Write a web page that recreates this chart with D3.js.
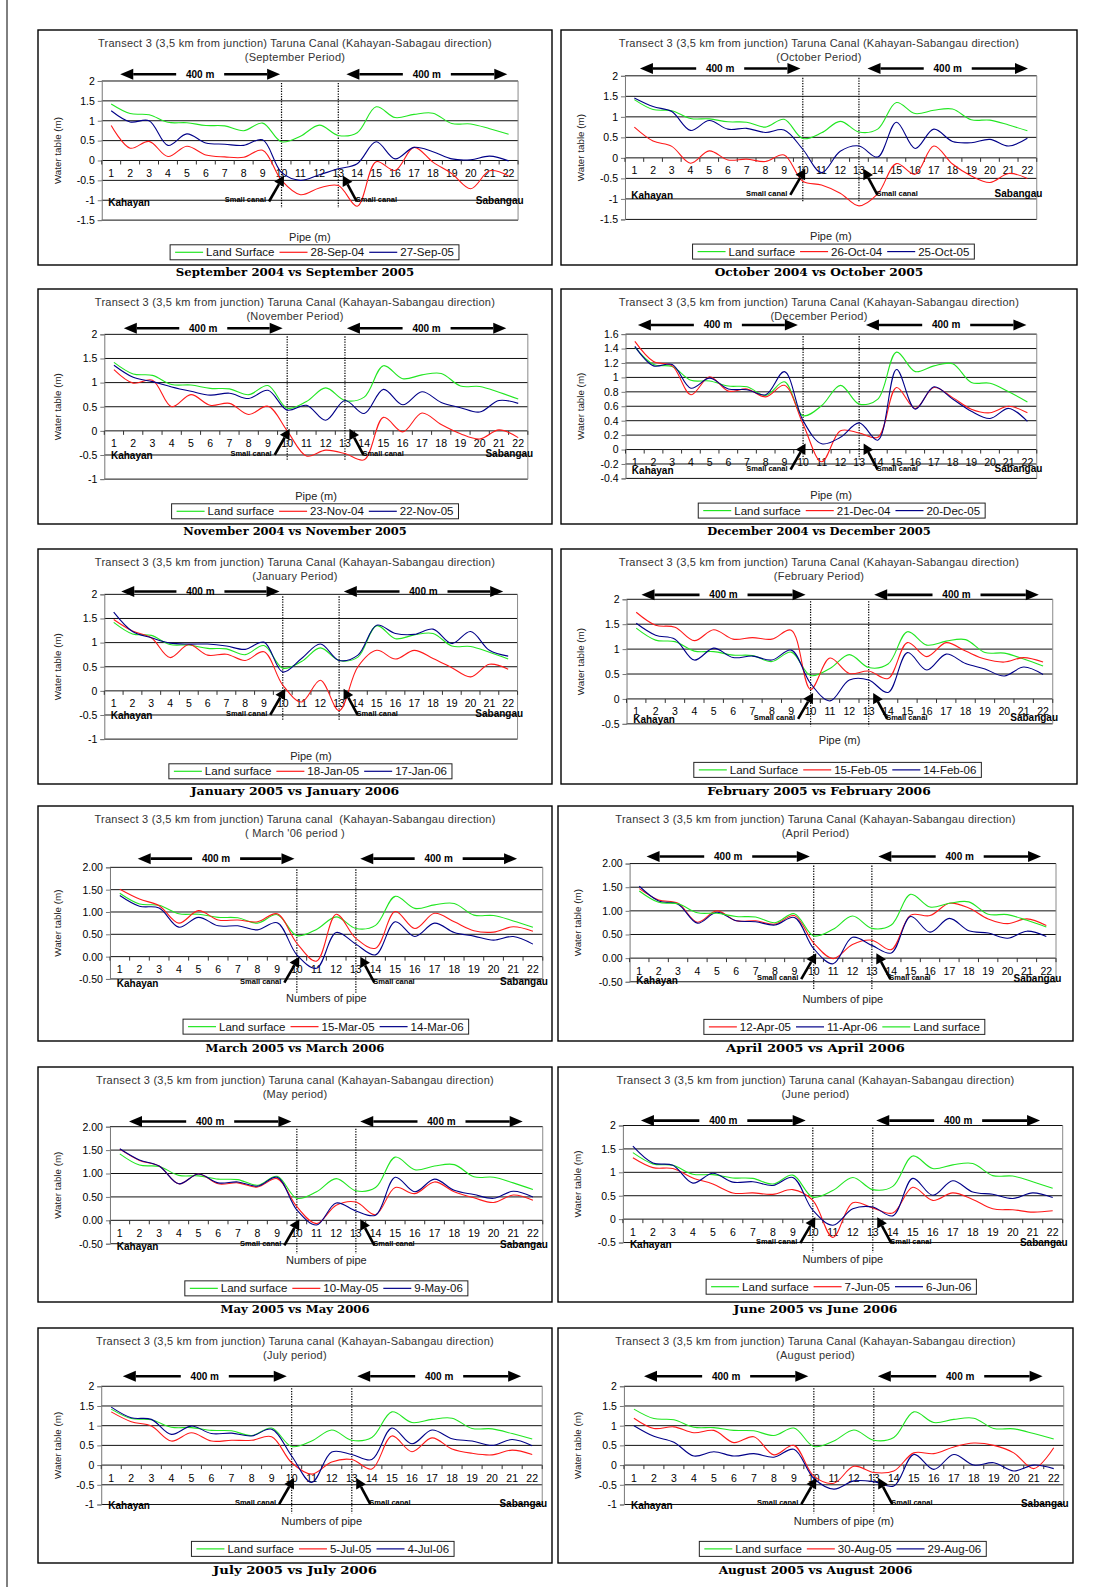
<!DOCTYPE html>
<html>
<head>
<meta charset="utf-8">
<script src="https://cdn.jsdelivr.net/npm/d3@7"></script>
<style>
body { margin: 0; background: #fff; }
svg { display: block; }
text { font-family: 'Liberation Sans', Arial, sans-serif; }
</style>
</head>
<body>
<script>
// ---- data ----
const pipes = d3.range(1, 23);

// land surface is the same profile in every panel
const landSurface = [1.42, 1.18, 1.15, 0.96, 0.95, 0.88, 0.87, 0.75, 0.94, 0.47, 0.61, 0.89, 0.63, 0.70, 1.35, 1.08, 1.16, 1.19, 0.93, 0.92, 0.80, 0.66];

const sep2004 = [0.88, 0.31, 0.48, 0.10, 0.36, 0.14, 0.09, 0.08, 0.26, -0.50, -0.86, -0.69, -0.63, -1.15, -0.03, -0.25, 0.33, -0.04, -0.33, -0.71, -0.26, -0.39];
const sep2005 = [1.25, 0.97, 1.00, 0.38, 0.67, 0.44, 0.41, 0.38, 0.52, -0.30, -0.50, -0.36, -0.21, -0.08, 0.47, 0.04, 0.33, 0.22, 0.04, 0.02, 0.11, -0.01];
const oct2004 = [0.75, 0.41, 0.28, -0.13, 0.17, -0.05, -0.03, -0.09, 0.07, -0.57, -0.66, -0.86, -1.17, -0.88, -0.14, -0.40, 0.29, -0.15, -0.44, -0.60, -0.38, -0.50];
const oct2005 = [1.46, 1.25, 1.13, 0.67, 0.91, 0.70, 0.72, 0.62, 0.68, 0.21, -0.36, 0.16, 0.29, 0.02, 0.87, 0.23, 0.70, 0.40, 0.37, 0.45, 0.29, 0.48];
const nov2004 = [1.27, 0.99, 1.05, 0.50, 0.75, 0.53, 0.57, 0.34, 0.51, 0.00, -0.52, -0.40, -0.47, -0.60, 0.28, -0.02, 0.37, 0.13, -0.06, -0.17, 0.02, -0.14];
const nov2005 = [1.36, 1.11, 1.02, 0.91, 0.82, 0.74, 0.78, 0.67, 0.84, 0.43, 0.53, 0.22, 0.63, 0.36, 0.86, 0.54, 0.81, 0.59, 0.48, 0.39, 0.63, 0.57];
const dec2004 = [1.50, 1.22, 1.16, 0.76, 1.01, 0.81, 0.84, 0.73, 0.89, 0.35, -0.17, 0.26, 0.23, 0.17, 0.86, 0.57, 0.86, 0.72, 0.56, 0.51, 0.60, 0.51];
const dec2005 = [1.43, 1.16, 1.18, 0.85, 0.99, 0.84, 0.83, 0.76, 1.08, 0.40, 0.08, 0.17, 0.37, 0.13, 1.11, 0.56, 0.87, 0.70, 0.53, 0.43, 0.57, 0.39];
const jan2005 = [1.48, 1.24, 1.10, 0.69, 0.96, 0.74, 0.76, 0.63, 0.81, 0.12, -0.23, 0.22, -0.41, 0.50, 0.84, 0.66, 0.84, 0.67, 0.48, 0.29, 0.55, 0.45];
const jan2006 = [1.63, 1.23, 1.10, 0.99, 0.97, 0.97, 0.93, 0.86, 1.01, 0.39, 0.67, 0.97, 0.63, 0.74, 1.36, 1.19, 1.17, 1.28, 0.98, 1.23, 0.84, 0.72];
const feb2005 = [1.74, 1.48, 1.44, 1.17, 1.39, 1.20, 1.23, 1.20, 1.38, 0.19, 0.82, 0.51, 0.56, 0.41, 1.13, 0.85, 1.13, 0.96, 0.80, 0.74, 0.83, 0.74];
const feb2006 = [1.52, 1.28, 1.20, 0.78, 1.02, 0.83, 0.86, 0.78, 0.98, 0.31, -0.04, 0.38, 0.38, 0.13, 0.93, 0.58, 0.90, 0.71, 0.60, 0.46, 0.64, 0.49];
const mar2005 = [1.51, 1.29, 1.14, 0.75, 1.03, 0.82, 0.82, 0.78, 0.96, 0.30, -0.10, 0.95, 0.41, 0.19, 1.01, 0.63, 0.97, 0.78, 0.58, 0.55, 0.67, 0.57];
const mar2006 = [1.37, 1.13, 1.09, 0.66, 0.88, 0.69, 0.69, 0.60, 0.76, 0.04, -0.26, 0.54, 0.28, 0.04, 0.78, 0.45, 0.75, 0.54, 0.46, 0.37, 0.45, 0.28];
const apr2005 = [1.47, 1.23, 1.16, 0.76, 1.00, 0.79, 0.79, 0.72, 0.90, 0.32, -0.01, 0.29, 0.38, 0.18, 0.91, 0.90, 1.16, 1.06, 0.83, 0.73, 0.83, 0.69];
const apr2006 = [1.52, 1.21, 1.14, 0.74, 0.97, 0.79, 0.77, 0.70, 0.86, 0.20, -0.12, 0.44, 0.27, 0.11, 0.88, 0.55, 0.84, 0.58, 0.53, 0.42, 0.57, 0.46];
const may2005 = [1.52, 1.28, 1.16, 0.78, 0.99, 0.78, 0.80, 0.71, 0.89, 0.29, -0.07, 0.32, 0.39, 0.12, 0.70, 0.57, 0.82, 0.61, 0.48, 0.38, 0.54, 0.43];
const may2006 = [1.53, 1.29, 1.16, 0.78, 0.99, 0.80, 0.82, 0.73, 0.92, 0.22, -0.10, 0.37, 0.20, 0.11, 0.92, 0.61, 0.88, 0.64, 0.55, 0.47, 0.62, 0.50];
const jun2005 = [1.31, 1.10, 1.08, 0.88, 0.75, 0.56, 0.56, 0.53, 0.63, 0.40, -0.39, 0.35, 0.24, 0.13, 0.68, 0.40, 0.56, 0.42, 0.22, 0.20, 0.15, 0.18];
const jun2006 = [1.56, 1.20, 1.15, 0.77, 0.98, 0.79, 0.80, 0.72, 0.89, 0.19, -0.13, 0.22, 0.26, 0.07, 0.87, 0.51, 0.82, 0.58, 0.53, 0.44, 0.56, 0.46];
const jul2005 = [1.35, 1.10, 0.99, 0.61, 0.82, 0.61, 0.63, 0.63, 0.72, 0.06, -0.23, 0.08, 0.14, -0.10, 0.74, 0.34, 0.69, 0.41, 0.30, 0.26, 0.38, 0.27];
const jul2006 = [1.47, 1.20, 1.16, 0.78, 0.99, 0.80, 0.81, 0.74, 0.91, 0.23, -0.44, 0.33, 0.27, 0.14, 0.94, 0.54, 0.89, 0.67, 0.61, 0.50, 0.65, 0.49];
const aug2005 = [1.19, 0.93, 0.97, 0.82, 0.88, 0.57, 0.72, 0.26, 0.50, -0.28, -0.46, -0.03, -0.19, -0.15, 0.31, 0.29, 0.46, 0.56, 0.50, 0.31, -0.09, 0.44];
const aug2006 = [1.00, 0.73, 0.58, 0.23, 0.34, 0.23, 0.29, 0.20, 0.40, -0.34, -0.61, -0.40, -0.42, -0.53, 0.27, -0.11, 0.27, 0.00, 0.06, -0.15, 0.00, -0.09];

// text
const titleLines = [
  'Transect 3 (3,5 km from junction) Taruna Canal (Kahayan-Sabagau direction)',
  'Transect 3 (3,5 km from junction) Taruna Canal (Kahayan-Sabangau direction)',
  'Transect 3 (3,5 km from junction) Taruna Canal (Kahayan-Sabangau direction)',
  'Transect 3 (3,5 km from junction) Taruna Canal (Kahayan-Sabangau direction)',
  'Transect 3 (3,5 km from junction) Taruna Canal (Kahayan-Sabangau direction)',
  'Transect 3 (3,5 km from junction) Taruna Canal (Kahayan-Sabangau direction)',
  'Transect 3 (3,5 km from junction) Taruna canal  (Kahayan-Sabangau direction)',
  'Transect 3 (3,5 km from junction) Taruna Canal (Kahayan-Sabangau direction)',
  'Transect 3 (3,5 km from junction) Taruna canal (Kahayan-Sabangau direction)',
  'Transect 3 (3,5 km from junction) Taruna canal (Kahayan-Sabangau direction)',
  'Transect 3 (3,5 km from junction) Taruna canal (Kahayan-Sabangau direction)',
  'Transect 3 (3,5 km from junction) Taruna Canal (Kahayan-Sabangau direction)'
];
const periodLabels = ['(September Period)', '(October Period)', '(November Period)', '(December Period)',
  '(January Period)', '(February Period)', "( March '06 period )", '(April Period)',
  '(May period)', '(June period)', '(July period)', '(August period)'];
const captions = ['September 2004 vs September 2005', 'October 2004 vs October 2005',
  'November 2004 vs November 2005', 'December 2004 vs December 2005',
  'January 2005 vs January 2006', 'February 2005 vs February 2006',
  'March 2005 vs March 2006', 'April 2005 vs April 2006',
  'May 2005 vs May 2006', 'June 2005 vs June 2006',
  'July 2005 vs July 2006', 'August 2005 vs August 2006'];
const xTitles = ['Pipe (m)', 'Pipe (m)', 'Pipe (m)', 'Pipe (m)', 'Pipe (m)', 'Pipe (m)',
  'Numbers of pipe', 'Numbers of pipe', 'Numbers of pipe', 'Numbers of pipe', 'Numbers of pipe',
  'Numbers of pipe (m)'];
const landNames = ['Land Surface', 'Land surface', 'Land surface', 'Land surface', 'Land surface', 'Land Surface',
  'Land surface', 'Land surface', 'Land surface', 'Land surface', 'Land surface', 'Land surface'];
const firstDates = ['28-Sep-04', '26-Oct-04', '23-Nov-04', '21-Dec-04', '18-Jan-05', '15-Feb-05',
  '15-Mar-05', '12-Apr-05', '10-May-05', '7-Jun-05', '5-Jul-05', '30-Aug-05'];
const secondDates = ['27-Sep-05', '25-Oct-05', '22-Nov-05', '20-Dec-05', '17-Jan-06', '14-Feb-06',
  '14-Mar-06', '11-Apr-06', '9-May-06', '6-Jun-06', '4-Jul-06', '29-Aug-06'];
const firstSeries = [sep2004, oct2004, nov2004, dec2004, jan2005, feb2005, mar2005, apr2005, may2005, jun2005, jul2005, aug2005];
const secondSeries = [sep2005, oct2005, nov2005, dec2005, jan2006, feb2006, mar2006, apr2006, may2006, jun2006, jul2006, aug2006];

// y axes
const yMins = [-1.5, -1.5, -1, -0.4, -1, -0.5, -0.5, -0.5, -0.5, -0.5, -1, -1];
const yMaxs = [2, 2, 2, 1.6, 2, 2, 2, 2, 2, 2, 2, 2];
const ySteps = [0.5, 0.5, 0.5, 0.2, 0.5, 0.5, 0.5, 0.5, 0.5, 0.5, 0.5, 0.5];
const yDecimals = [null, null, null, null, null, null, 2, 2, 2, null, null, null];

// ---- layout (fractions of each panel box) ----
const boxes = [
  [38, 30, 514], [561, 30, 516],
  [38, 289, 514], [561, 289, 516],
  [38, 549, 514], [561, 549, 516],
  [38, 806, 514], [558, 806, 515],
  [38, 1067, 514], [558, 1067, 515],
  [38, 1328, 514], [558, 1328, 515]
];
const boxH = 235;
const layout = [
  { pl: .124, pr: .934, pt: .217, pb: .809, ay: .188, al: [.160, .471], ar: [.600, .913], xt: .880, lg: [.914, .538], lab: 42 },
  { pl: .124, pr: .922, pt: .195, pb: .806, ay: .164, al: [.153, .464], ar: [.594, .905], xt: .877, lg: [.911, .528], lab: 38 },
  { pl: .129, pr: .953, pt: .193, pb: .809, ay: .167, al: [.167, .476], ar: [.601, .911], xt: .880, lg: [.914, .539], lab: 25 },
  { pl: .125, pr: .922, pt: .192, pb: .806, ay: .153, al: [.149, .459], ar: [.591, .902], xt: .877, lg: [.911, .544], lab: 21 },
  { pl: .129, pr: .933, pt: .193, pb: .809, ay: .181, al: [.162, .470], ar: [.595, .905], xt: .880, lg: [.914, .530], lab: 25 },
  { pl: .127, pr: .953, pt: .214, pb: .744, ay: .195, al: [.156, .474], ar: [.607, .926], xt: .814, lg: [.908, .536], lab: 21 },
  { pl: .140, pr: .982, pt: .261, pb: .736, ay: .224, al: [.194, .499], ar: [.627, .932], xt: .816, lg: [.907, .560], lab: 27 },
  { pl: .139, pr: .967, pt: .245, pb: .748, ay: .215, al: [.172, .489], ar: [.622, .938], xt: .820, lg: [.908, .556], lab: 22 },
  { pl: .140, pr: .982, pt: .254, pb: .752, ay: .232, al: [.177, .493], ar: [.627, .943], xt: .821, lg: [.910, .561], lab: 26 },
  { pl: .126, pr: .980, pt: .249, pb: .747, ay: .228, al: [.161, .481], ar: [.618, .936], xt: .817, lg: [.903, .550], lab: 25 },
  { pl: .123, pr: .981, pt: .248, pb: .751, ay: .205, al: [.165, .484], ar: [.621, .940], xt: .822, lg: [.908, .554], lab: 40 },
  { pl: .128, pr: .982, pt: .248, pb: .751, ay: .205, al: [.167, .486], ar: [.621, .941], xt: .822, lg: [.908, .553], lab: 40 }
];

const GREEN = '#22e622', RED = '#ff1a1a', BLUE = '#000088';

const svg = d3.select('body').append('svg')
  .attr('width', 1104)
  .attr('height', 1587)
  .style('background', '#fff');

// page frame line on the left
svg.append('line').attr('x1', 7).attr('x2', 7).attr('y1', 0).attr('y2', 1587)
  .attr('stroke', '#000').attr('stroke-width', 1);

function arrow(g, x1, y1, x2, y2, headLen, headW, sw) {
  const ang = Math.atan2(y2 - y1, x2 - x1);
  const bx = x2 - headLen * Math.cos(ang), by = y2 - headLen * Math.sin(ang);
  g.append('line').attr('x1', x1).attr('y1', y1).attr('x2', bx).attr('y2', by)
    .attr('stroke', '#000').attr('stroke-width', sw);
  const px = -Math.sin(ang) * headW, py = Math.cos(ang) * headW;
  g.append('path')
    .attr('d', `M${x2},${y2}L${bx + px},${by + py}L${bx - px},${by - py}Z`)
    .attr('fill', '#000');
}

function drawPanel(i) {
  const [bx, by, W] = boxes[i];
  const H = boxH;
  const L = layout[i];
  const g = svg.append('g').attr('transform', `translate(${bx},${by})`);

  g.append('rect').attr('x', 0).attr('y', 0).attr('width', W).attr('height', H)
    .attr('fill', '#fff').attr('stroke', '#000').attr('stroke-width', 1.4);

  // title
  g.append('text').attr('x', W * 0.5).attr('y', H * 0.058 + 3.5)
    .attr('text-anchor', 'middle').attr('font-size', 11).attr('fill', '#333')
    .attr('letter-spacing', 0.25)
    .style('white-space', 'pre').text(titleLines[i]);
  g.append('text').attr('x', W * 0.5).attr('y', H * 0.118 + 3.5)
    .attr('text-anchor', 'middle').attr('font-size', 11).attr('fill', '#333')
    .attr('letter-spacing', 0.25)
    .style('white-space', 'pre').text(periodLabels[i]);

  const x = d3.scaleBand().domain(pipes).range([L.pl * W, L.pr * W]);
  const cx = d => x(d) + x.bandwidth() / 2;
  const y = d3.scaleLinear().domain([yMins[i], yMaxs[i]]).range([L.pb * H, L.pt * H]);
  const nT = Math.round((yMaxs[i] - yMins[i]) / ySteps[i]);
  const ticks = d3.range(nT + 1).map(k => +(yMins[i] + k * ySteps[i]).toFixed(2));
  const fmt = yDecimals[i] == null ? d => String(d) : d => d.toFixed(yDecimals[i]);

  const x0 = L.pl * W, x1 = L.pr * W, y0 = y(0);

  // gridlines
  g.append('g').selectAll('line').data(ticks).join('line')
    .attr('x1', x0).attr('x2', x1).attr('y1', d => y(d)).attr('y2', d => y(d))
    .attr('stroke', '#111').attr('stroke-width', 1);

  // plot right border
  g.append('line').attr('x1', x1).attr('x2', x1).attr('y1', y(yMaxs[i])).attr('y2', y(yMins[i]))
    .attr('stroke', '#8a8a8a').attr('stroke-width', 1);

  // y axis
  const ya = g.append('g').attr('transform', `translate(${x0},0)`)
    .call(d3.axisLeft(y).tickValues(ticks).tickFormat(fmt).tickSize(4).tickPadding(3));
  ya.select('.domain').attr('stroke', '#777');
  ya.selectAll('.tick line').attr('stroke', '#777');
  ya.selectAll('text').attr('font-size', 10.5).attr('fill', '#000')
    .style('font-family', "'Liberation Sans', Arial, sans-serif");

  // x axis on zero line
  const xa = g.append('g').attr('transform', `translate(0,${y0})`)
    .call(d3.axisBottom(x).tickSize(0).tickPadding(9));
  xa.select('.domain').remove();
  xa.selectAll('text').attr('font-size', 10.5).attr('fill', '#000')
    .style('font-family', "'Liberation Sans', Arial, sans-serif");
  g.append('g').selectAll('line').data(pipes.concat([23])).join('line')
    .attr('x1', d => d === 23 ? x1 : x(d)).attr('x2', d => d === 23 ? x1 : x(d))
    .attr('y1', y0).attr('y2', y0 + 4)
    .attr('stroke', '#333').attr('stroke-width', 1);

  // dotted canal positions
  [10, 13].forEach(p => {
    g.append('line').attr('x1', cx(p)).attr('x2', cx(p))
      .attr('y1', L.pt * H + 2).attr('y2', L.pt * H + 127)
      .attr('stroke', '#000').attr('stroke-width', 1.2).attr('stroke-dasharray', '1.3,1.3');
  });

  // series
  const names = [landNames[i], firstDates[i], secondDates[i]];
  const values = [landSurface, firstSeries[i], secondSeries[i]];
  const colors = [GREEN, RED, BLUE];
  const order = i === 7 ? [1, 2, 0] : [0, 1, 2];
  const line = d3.line().x((d, k) => cx(pipes[k])).y(d => y(d)).curve(d3.curveCatmullRom.alpha(0.5));
  order.forEach(s => {
    g.append('path').attr('d', line(values[s])).attr('fill', 'none')
      .attr('stroke', colors[s]).attr('stroke-width', 1.1);
  });

  // 400 m arrows
  const ayy = L.ay * H;
  [L.al, L.ar].forEach(([a, b]) => {
    const m = (a + b) / 2 * W;
    arrow(g, m - 24, ayy, a * W, ayy, 13, 5.5, 2.6);
    arrow(g, m + 24, ayy, b * W, ayy, 13, 5.5, 2.6);
    g.append('text').attr('x', m).attr('y', ayy + 3.5).attr('text-anchor', 'middle')
      .attr('font-size', 10).attr('font-weight', 'bold').text('400 m');
  });

  // small canal arrows
  const baseY = y0 + L.lab - 1;
  const tipY = baseY - 26;
  const tL = cx(10) + 2.5, tR = cx(13) + 4.5;
  arrow(g, tL - 15, baseY, tL, tipY, 10, 5.5, 2.6);
  arrow(g, tR + 14, baseY, tR, tipY, 10, 5.5, 2.6);
  g.append('text').attr('x', tL - 18).attr('y', baseY + 1).attr('text-anchor', 'end')
    .attr('font-size', 7.5).attr('font-weight', 'bold').text('Small canal');
  g.append('text').attr('x', tR + 13).attr('y', baseY + 1).attr('text-anchor', 'start')
    .attr('font-size', 7.5).attr('font-weight', 'bold').text('Small canal');

  // end labels
  g.append('text').attr('x', cx(1) - 3).attr('y', y0 + L.lab + 3.5)
    .attr('font-size', 10).attr('font-weight', 'bold').text('Kahayan');
  g.append('text').attr('x', cx(22) + 15).attr('y', y0 + L.lab + 1.5).attr('text-anchor', 'end')
    .attr('font-size', 10).attr('font-weight', 'bold').text('Sabangau');

  // axis titles
  g.append('text').attr('transform', `translate(${23},${(L.pt + L.pb) / 2 * H}) rotate(-90)`)
    .attr('text-anchor', 'middle').attr('font-size', 9.8).attr('fill', '#222').text('Water table (m)');
  g.append('text').attr('x', (x0 + x1) / 2).attr('y', L.xt * H + 4)
    .attr('text-anchor', 'middle').attr('font-size', 11).attr('fill', '#222').text(xTitles[i]);

  // legend
  const lg = g.append('g');
  let xx = 5;
  order.forEach(s => {
    lg.append('line').attr('x1', xx).attr('x2', xx + 28).attr('y1', 0).attr('y2', 0)
      .attr('stroke', colors[s]).attr('stroke-width', 1.2);
    xx += 31;
    const t = lg.append('text').attr('x', xx).attr('y', 4).attr('font-size', 11.5)
      .attr('fill', '#111').text(names[s]);
    xx += t.node().getComputedTextLength() + 5;
  });
  lg.insert('rect', ':first-child').attr('x', 0).attr('y', -7.5).attr('width', xx).attr('height', 15)
    .attr('fill', '#fff').attr('stroke', '#222').attr('stroke-width', 1);
  lg.attr('transform', `translate(${L.lg[1] * W - xx / 2},${L.lg[0] * H + 7.5})`);

  // caption under the box
  const cap = g.append('text').attr('x', W / 2).attr('y', H + 11)
    .attr('text-anchor', 'middle').attr('font-size', 10.5).attr('font-weight', 'bold')
    .style('font-family', "'DejaVu Serif', serif").text(captions[i]);
  cap.attr('textLength', captions[i].length * 7.45).attr('lengthAdjust', 'spacingAndGlyphs');
}

d3.range(12).forEach(drawPanel);
</script>
</body>
</html>
